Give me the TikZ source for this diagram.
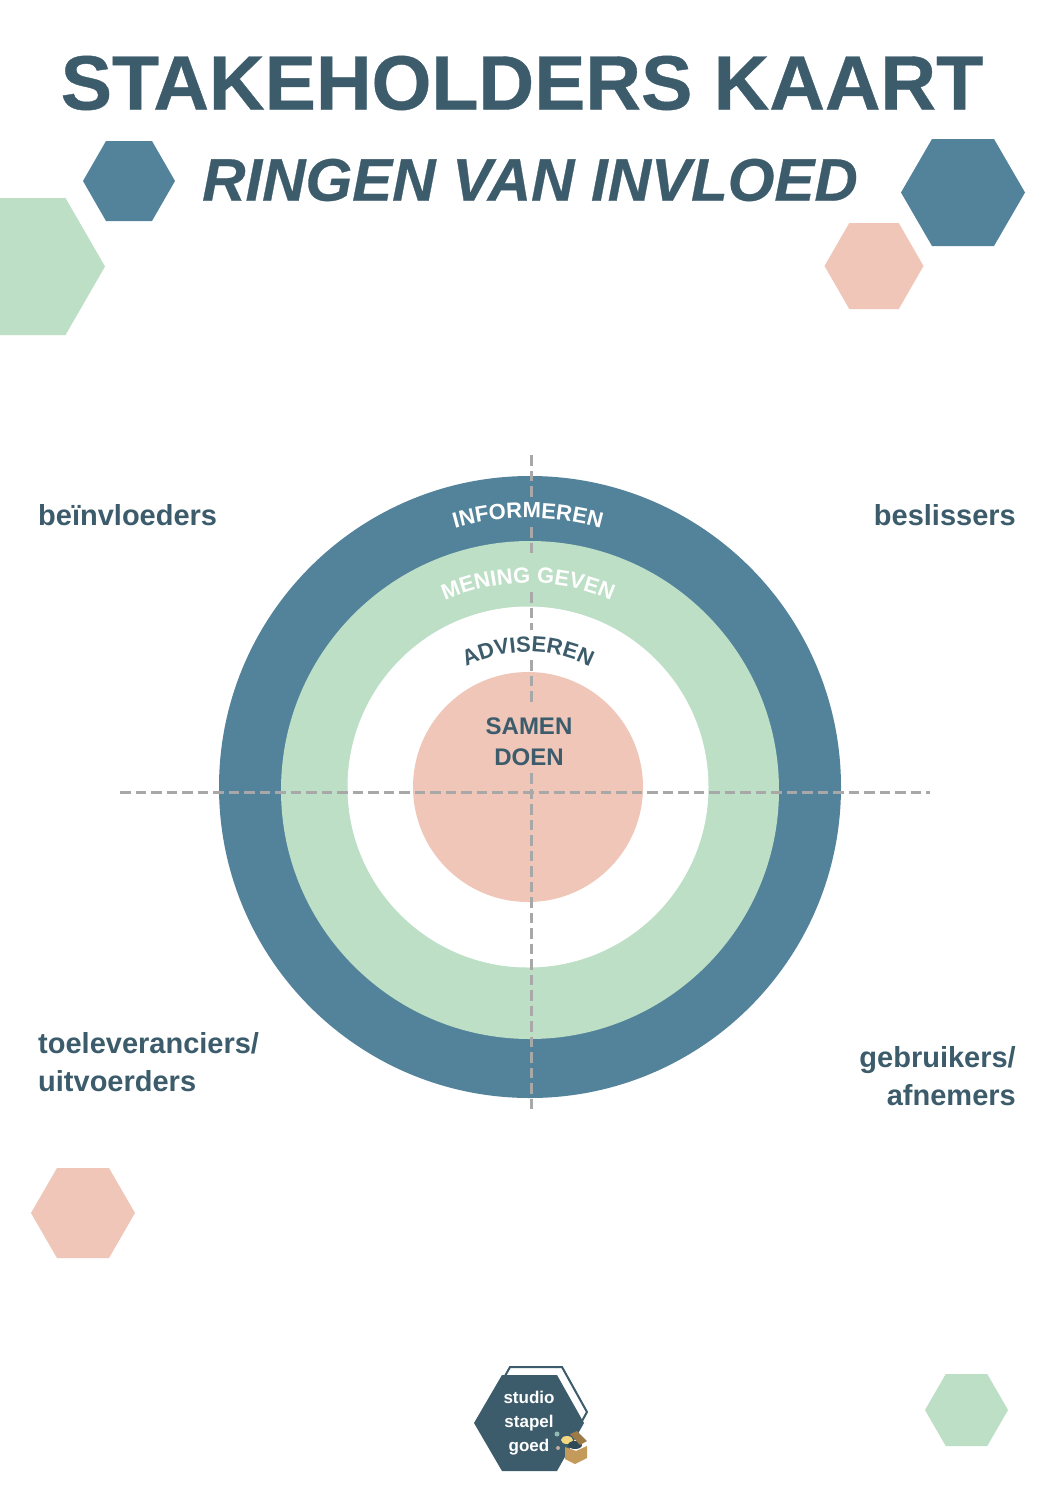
\documentclass[tikz,border=0pt]{standalone}
\usepackage{fontspec}
\setmainfont{Liberation Sans}
\newfontfamily\heavyfont{Liberation Sans Bold}[FakeBold=0.5]
\newfontfamily\heavyitfont{Liberation Sans Bold Italic}[FakeBold=0.5]
\usetikzlibrary{decorations.text}
\definecolor{inkblue}{HTML}{3C5C6C}
\definecolor{ringblue}{HTML}{53829B}
\definecolor{ringgreen}{HTML}{BCDFC6}
\definecolor{ringpink}{HTML}{EFC6B8}
\definecolor{dashgray}{HTML}{A8A8A8}
\definecolor{boxtan}{HTML}{C49A5A}
\newcommand{\fsz}[1]{\fontsize{#1}{#1}\selectfont\bfseries}
\tikzset{
    sidelabel/.style={text=inkblue,font=\fsz{29},inner sep=0pt,align=left},
    crossline/.style={draw=dashgray,line width=3pt,dash pattern=on 10.5pt off 5pt},
    ringtext/.style args={#1/#2}{decorate,decoration={text along path,text align=center,
        text={|\fsz{22}\color{#2}|#1}}}
}
\begin{document}
\begin{tikzpicture}[x=1pt,y=1pt]
            \clip (0,0) rectangle (1060,-1500);
            \fill[white] (0,0) rectangle (1060,-1500);
            % hexagons: centre x, centre y, half width, half height, colour
            \foreach \cx/\cy/\rx/\ry/\col in {
                129/181/46/40/ringblue,
                963/192.5/62/53.5/ringblue,
                874/266/49.5/43/ringpink,
                26/266.5/79/68.5/ringgreen,
                83/1213/52/45/ringpink,
                966.5/1410/41.5/36/ringgreen}
            {\fill[\col] ({\cx-\rx},-\cy)--({\cx-\rx/2},{-\cy+\ry})--({\cx+\rx/2},{-\cy+\ry})
                --({\cx+\rx},-\cy)--({\cx+\rx/2},{-\cy-\ry})--({\cx-\rx/2},{-\cy-\ry})--cycle;}
            \node[text=inkblue,font=\fontsize{77}{77}\selectfont\heavyfont] (title) at (522,-83) {STAKEHOLDERS KAART};
            \node[text=inkblue,font=\fontsize{60}{60}\selectfont\heavyitfont] (subtitle) at (530,-180) {RINGEN VAN INVLOED};
            % rings
            \coordinate (ringc) at (528,-787);
            \fill[ringblue] (530,-787) circle (311);
            \fill[ringgreen] (530,-790) circle (249);
            \fill[white] (528,-787) circle (180.5);
            \fill[ringpink] (528,-787) circle (115);
            % cross, the upright one stops at the words
            \coordinate (crossw) at (120,-792);
            \coordinate (crosse) at (930,-792);
            \draw[crossline] (crossw)--(crosse);
            \foreach \ya/\yb in {455/497,527/553,592/630,660/703,773/1110}
            {\draw[crossline] (531,-\ya)--(531,-\yb);}
            \path[ringtext=INFORMEREN/white] (ringc) ++(150:269) arc[start angle=150,end angle=30,radius=269];
            \path[ringtext=MENING GEVEN/white] (ringc) ++(150:204) arc[start angle=150,end angle=30,radius=204];
            \path[ringtext=ADVISEREN/inkblue] (ringc) ++(150:135) arc[start angle=150,end angle=30,radius=135];
            \node[text=inkblue,font=\fsz{24},align=center,inner sep=0pt] (samen) at (529,-742)
                {SAMEN\\[7pt]DOEN};
            % corner labels
            \node[sidelabel,anchor=west] (beinvl) at (38,-515) {beïnvloeders};
            \node[sidelabel,anchor=east] (besl) at (1016,-515) {beslissers};
            \node[sidelabel,anchor=west] (toelev) at (38,-1062) {toeleveranciers/\\[9pt]uitvoerders};
            \node[sidelabel,anchor=east,align=right] (gebr) at (1016,-1076) {gebruikers/\\[9pt]afnemers};
            % logo
            \draw[inkblue,line width=2pt,fill=white] (510,-1367)--(562,-1367)--(587,-1412)--(562,-1457)--(510,-1457)--(485,-1412)--cycle;
            \fill[inkblue] (474,-1423)--(502,-1375)--(557,-1375)--(584,-1423)--(557,-1471)--(502,-1471)--cycle;
            \node[text=white,font=\fsz{17},align=center,inner sep=0pt] (logo) at (529,-1423)
                {studio\\[7pt]stapel\\[7pt]goed};
            \fill[ringgreen!60!ringblue] (557,-1434) circle (2.5);
            \fill[ringpink!60!gray] (558,-1448) circle (2);
            \fill[ringpink!70!yellow] (567,-1440) ellipse (6 and 4);
            \fill[inkblue!80!black] (575,-1445) ellipse (7 and 4);
            \fill[boxtan] (565,-1447)--(576,-1451)--(587,-1446)--(587,-1458)--(575,-1464)--(565,-1459)--cycle;
            \fill[boxtan!80!black] (570,-1434)--(577,-1431)--(587,-1441)--(580,-1445)--cycle;
            \end{tikzpicture}
\end{document}
